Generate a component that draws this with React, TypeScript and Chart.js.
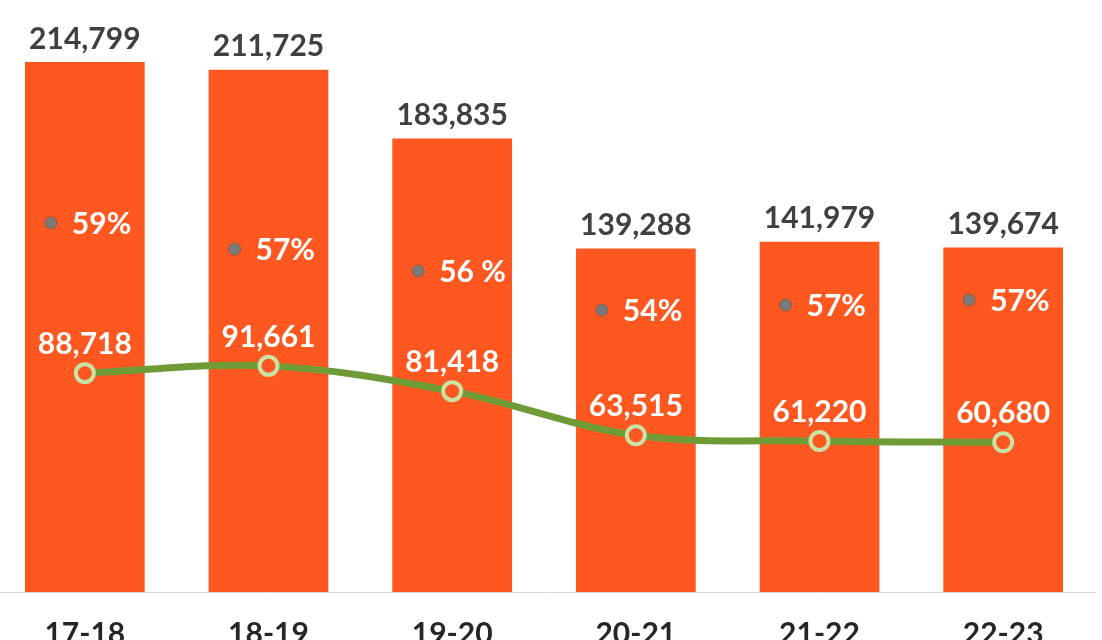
import React, { useEffect, useRef } from "react";
import { Chart, registerables } from "chart.js";

Chart.register(...registerables);

const categories = ["17-18", "18-19", "19-20", "20-21", "21-22", "22-23"];
const totals = [214799, 211725, 183835, 139288, 141979, 139674];
const subset = [88718, 91661, 81418, 63515, 61220, 60680];
const pctLabels = ["59%", "57%", "56 %", "54%", "57%", "57%"];
// vertical level (in the same units as the bars) where each percentage marker sits
const pctLevel = [149600, 139000, 130100, 114300, 116300, 118400];

const FONT = "Lato, 'Open Sans', sans-serif";
const fmt = (v: number) => v.toLocaleString("en-US");

const W = 1128;
const H = 676;
const MARKER_SHIFT = -34;

const labelPlugin = {
  id: "labels",
  beforeDatasetDraw(chart: any, args: any) {
    if (args.index === 2) {
      chart.ctx.save();
      chart.ctx.translate(MARKER_SHIFT, 0);
    }
  },
  afterDatasetDraw(chart: any, args: any) {
    if (args.index === 2) chart.ctx.restore();
  },
  afterDatasetsDraw(chart: any) {
    const ctx = chart.ctx;
    ctx.save();
    ctx.textBaseline = "middle";
    const barMeta = chart.getDatasetMeta(0);
    ctx.font = `bold 30px ${FONT}`;
    ctx.fillStyle = "#404040";
    ctx.textAlign = "center";
    barMeta.data.forEach((el: any, i: number) => {
      ctx.fillText(fmt(totals[i]), el.x, el.y - 23);
    });
    const lineMeta = chart.getDatasetMeta(1);
    ctx.fillStyle = "#ffffff";
    lineMeta.data.forEach((el: any, i: number) => {
      ctx.fillText(fmt(subset[i]), el.x, el.y - 29);
    });
    const pMeta = chart.getDatasetMeta(2);
    ctx.textAlign = "left";
    pMeta.data.forEach((el: any, i: number) => {
      ctx.fillText(pctLabels[i], el.x + MARKER_SHIFT + 21, el.y + 1);
    });
    ctx.restore();
  },
};

export default function App() {
  const ref = useRef<HTMLCanvasElement>(null);
  useEffect(() => {
    if (!ref.current) return;
    const chart = new Chart(ref.current, {
      type: "bar",
      data: {
        labels: categories,
        datasets: [
          {
            type: "bar",
            data: totals,
            backgroundColor: "#FE5820",
            categoryPercentage: 1,
            barPercentage: 0.652,
            grouped: false,
            order: 3,
          } as any,
          {
            type: "line",
            data: subset,
            borderColor: "#6E9B36",
            borderWidth: 7,
            tension: 0.35,
            pointRadius: 9,
            pointBorderWidth: 4,
            pointBorderColor: "#C9E2A6",
            pointBackgroundColor: "#FE5820",
            order: 2,
          },
          {
            type: "line",
            data: pctLevel,
            showLine: false,
            pointRadius: 6,
            pointBorderWidth: 1,
            pointBorderColor: "#8a5a40",
            pointBackgroundColor: "#7a7a7a",
            order: 1,
          } as any,
        ],
      },
      options: {
        animation: false,
        responsive: false,
        maintainAspectRatio: false,
        layout: { padding: 0 },
        plugins: { legend: { display: false }, tooltip: { enabled: false } },
        scales: {
          x: {
            grid: { display: false, drawTicks: false },
            border: { display: true, color: "#D9D9D9", width: 1 },
            ticks: {
              padding: 24,
              color: "#262626",
              font: { family: FONT, size: 30, weight: "bold" },
            },
          },
          y: {
            display: false,
            min: 0,
            max: 234700,
          },
        },
      },
      plugins: [labelPlugin],
    });
    return () => chart.destroy();
  }, []);
  return (
    <div
      style={{
        position: "fixed",
        left: -20,
        top: 0,
        width: W,
        height: H,
        background: "#fff",
      }}
    >
      <canvas ref={ref} width={W} height={H} />
    </div>
  );
}
